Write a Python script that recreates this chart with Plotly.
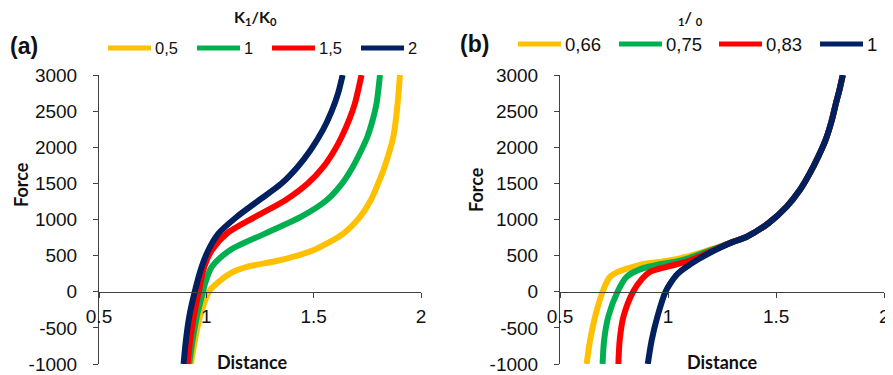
import plotly.graph_objects as go

# The page places the plot 8px from the top-left corner, so the figure is
# sized to fill the rest of the 893x375 window.
OFF = 8
W, H = 893 - OFF, 375 - OFF

colors = ["#FFC000", "#00B050", "#FF0000", "#002060"]

# ---------------- Panel (a): K1/K0 ----------------
a_title = "K<sub>1</sub>/K<sub>0</sub>"
a_names = ["0,5", "1", "1,5", "2"]

a_x_05 = [0.928, 0.947, 0.970, 1.012, 1.048, 1.110, 1.188, 1.343, 1.498, 1.638, 1.716, 1.766, 1.800, 1.825, 1.871, 1.891, 1.902]
a_y_05 = [-1000, -670, -350, 0, 113, 252, 343, 436, 574, 805, 1035, 1266, 1497, 1682, 2142, 2605, 3000]

a_x_1 = [0.920, 0.936, 0.955, 0.984, 0.994, 1.025, 1.110, 1.273, 1.440, 1.560, 1.632, 1.682, 1.722, 1.750, 1.777, 1.793, 1.809]
a_y_1 = [-1000, -670, -350, 0, 115, 343, 574, 805, 1035, 1266, 1497, 1727, 1958, 2142, 2400, 2605, 3000]

a_x_15 = [0.912, 0.925, 0.941, 0.965, 0.990, 1.025, 1.095, 1.227, 1.368, 1.472, 1.545, 1.597, 1.630, 1.668, 1.692, 1.723]
a_y_15 = [-1000, -670, -350, 0, 343, 574, 805, 1035, 1266, 1497, 1727, 1958, 2142, 2400, 2605, 3000]

a_x_2 = [0.894, 0.905, 0.920, 0.946, 0.978, 1.009, 1.056, 1.141, 1.245, 1.350, 1.425, 1.485, 1.545, 1.584, 1.614, 1.635]
a_y_2 = [-1000, -670, -350, 0, 343, 574, 805, 1035, 1266, 1497, 1727, 1958, 2250, 2500, 2750, 3000]

# ---------------- Panel (b) ----------------
b_title = "<sub>1</sub>/ <sub>0</sub>"
b_names = ["0,66", "0,75", "0,83", "1"]

b_up_x = [1.300, 1.364, 1.464, 1.549, 1.610, 1.656, 1.695, 1.729, 1.755, 1.777, 1.793, 1.808]
b_up_y = [690, 762, 948, 1179, 1411, 1643, 1874, 2106, 2350, 2616, 2800, 3000]

b_x_066 = [0.623, 0.639, 0.662, 0.697, 0.731, 0.780, 0.850, 0.900, 0.993, 1.086, 1.160, 1.240]
b_y_066 = [-1000, -674, -350, 0, 206, 290, 355, 390, 425, 484, 550, 625]

b_x_075 = [0.697, 0.704, 0.723, 0.766, 0.808, 0.870, 0.970, 1.040, 1.101, 1.170, 1.240]
b_y_075 = [-1000, -674, -350, 0, 206, 310, 385, 420, 470, 545, 622]

b_x_083 = [0.770, 0.776, 0.793, 0.838, 0.880, 0.916, 0.993, 1.090, 1.160, 1.240]
b_y_083 = [-1000, -674, -350, 0, 180, 275, 345, 420, 505, 615]

b_x_1 = [0.906, 0.924, 0.950, 0.988, 1.010, 1.045, 1.086, 1.140, 1.200, 1.240]
b_y_1 = [-1000, -674, -350, 0, 114, 250, 345, 450, 550, 610]

x_ticks = [0.5, 1, 1.5, 2]
x_ticktext = ["0.5", "1", "1.5", "2"]
y_ticks = [-1000, -500, 0, 500, 1000, 1500, 2000, 2500, 3000]
y_ticktext = ["-1000", "-500", "0", "500", "1000", "1500", "2000", "2500", "3000"]

a_series = [(a_x_05, a_y_05), (a_x_1, a_y_1), (a_x_15, a_y_15), (a_x_2, a_y_2)]
b_series = [(b_x_066 + b_up_x, b_y_066 + b_up_y),
            (b_x_075 + b_up_x, b_y_075 + b_up_y),
            (b_x_083 + b_up_x, b_y_083 + b_up_y),
            (b_x_1 + b_up_x, b_y_1 + b_up_y)]

fig = go.Figure()
for (xs, ys), name, c in zip(a_series, a_names, colors):
    fig.add_trace(go.Scatter(x=xs, y=ys, mode="lines", name=name, showlegend=False,
                             line=dict(color=c, width=6, shape="spline", smoothing=0.8),
                             xaxis="x", yaxis="y"))
for (xs, ys), name, c in zip(b_series, b_names, colors):
    fig.add_trace(go.Scatter(x=xs, y=ys, mode="lines", name=name, showlegend=False,
                             line=dict(color=c, width=6, shape="spline", smoothing=0.8),
                             xaxis="x2", yaxis="y2"))


def px(x):
    return (x - OFF) / W


def py(y):
    return 1 - (y - OFF) / H


YD = [py(364), py(75)]
zero_pos = YD[0] + (0 - (-1000)) / 4000 * (YD[1] - YD[0])
tickfont = dict(family="Liberation Sans, Arial, sans-serif", size=19, color="#111111")
axcol = "#404040"


def xax(domain):
    return dict(domain=domain, range=[0.5, 2], tickvals=x_ticks, ticktext=x_ticktext,
                showgrid=False, zeroline=False, showline=True, linecolor=axcol, linewidth=1,
                ticks="outside", ticklen=5, tickcolor=axcol, tickfont=tickfont,
                anchor="free", position=zero_pos, ticklabelstandoff=2, automargin=False,
                fixedrange=True)


def yax(anchor_x):
    return dict(domain=YD, range=[-1000, 3000], tickvals=y_ticks, ticktext=y_ticktext,
                showgrid=False, zeroline=False, showline=True, linecolor=axcol, linewidth=1,
                ticks="outside", ticklen=5, tickcolor=axcol, tickfont=tickfont,
                anchor=anchor_x, ticklabelstandoff=12, automargin=False, fixedrange=True)


XA = [px(99), px(421)]
XB = [px(560), px(884.3)]

annotations = []
shapes = []
titlefont = dict(family="Lato, Calibri, sans-serif", size=18, color="#111111")

# axis titles
annotations.append(dict(text="<b>Distance</b>", x=px(252), y=py(362), xref="paper", yref="paper",
                        showarrow=False, font=titlefont, xanchor="center", yanchor="middle"))
annotations.append(dict(text="<b>Distance</b>", x=px(722), y=py(362), xref="paper", yref="paper",
                        showarrow=False, font=titlefont, xanchor="center", yanchor="middle"))
annotations.append(dict(text="<b>Force</b>", x=px(8), y=py(185), xref="paper", yref="paper",
                        showarrow=False, font=titlefont, textangle=-90, xanchor="left", yanchor="middle"))
annotations.append(dict(text="<b>Force</b>", x=px(476), y=py(190), xref="paper", yref="paper",
                        showarrow=False, font=titlefont, textangle=-90, xanchor="center", yanchor="middle"))

# panel labels
panelfont = dict(family="Liberation Sans, Arial, sans-serif", size=23, color="#111111")
annotations.append(dict(text="<b>(a)</b>", x=px(8), y=py(46), xref="paper", yref="paper",
                        showarrow=False, font=panelfont, xanchor="left", yanchor="middle"))
annotations.append(dict(text="<b>(b)</b>", x=px(458), y=py(44), xref="paper", yref="paper",
                        showarrow=False, font=panelfont, xanchor="left", yanchor="middle"))

# legend titles
legtitlefont = dict(family="Lato, Calibri, sans-serif", size=16, color="#111111")
annotations.append(dict(text="<b>" + a_title + "</b>", x=px(255), y=py(17), xref="paper", yref="paper",
                        showarrow=False, font=legtitlefont, xanchor="center", yanchor="middle"))
annotations.append(dict(text="<b>" + b_title + "</b>", x=px(690), y=py(18), xref="paper", yref="paper",
                        showarrow=False, font=legtitlefont, xanchor="center", yanchor="middle"))

# legend entries
a_leg_x = [108, 197, 272, 361]
b_leg_x = [518, 619, 719, 820]
for names, starts, fsize, ly in ((a_names, a_leg_x, 16.5, 48), (b_names, b_leg_x, 18.5, 44)):
    for name, x0, c in zip(names, starts, colors):
        shapes.append(dict(type="line", xref="paper", yref="paper", x0=px(x0), x1=px(x0 + 43),
                           y0=py(ly), y1=py(ly), line=dict(color=c, width=5)))
        annotations.append(dict(text=name, x=px(x0 + 45), y=py(ly), xref="paper", yref="paper",
                                showarrow=False, xanchor="left", yanchor="middle",
                                font=dict(family="Liberation Sans, Arial, sans-serif", size=fsize, color="#111111")))

fig.update_layout(
    template="none",
    width=W, height=H,
    margin=dict(l=0, r=0, t=0, b=0, autoexpand=False),
    paper_bgcolor="white", plot_bgcolor="white",
    showlegend=False,
    xaxis=xax(XA), yaxis=yax("x"),
    xaxis2=xax(XB), yaxis2=yax("x2"),
    annotations=annotations, shapes=shapes,
)

fig.write_html("out.html")
